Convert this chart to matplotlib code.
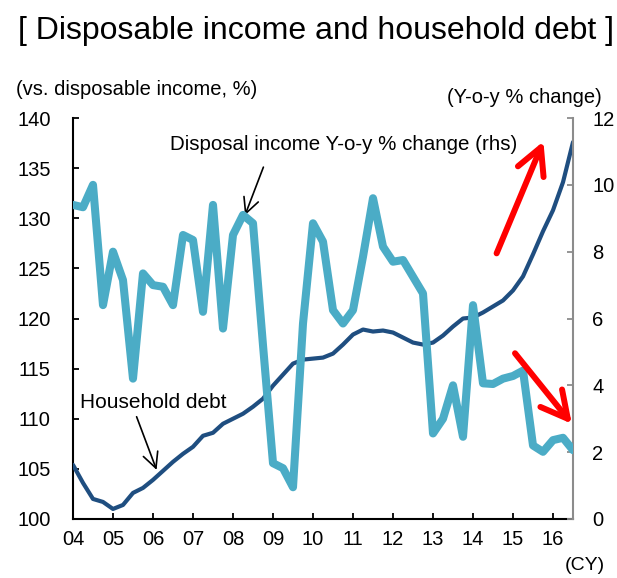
import numpy as np
import matplotlib.pyplot as plt

plt.rcParams['font.family'] = ['Liberation Sans', 'DejaVu Sans']

# quarterly data, 2004Q1 onwards
start_year = 2004
debt = [105.4, 103.6, 102.0, 101.7, 101.0, 101.4, 102.6, 103.1, 103.9, 104.8,
        105.7, 106.5, 107.2, 108.3, 108.6, 109.5, 110.0, 110.5, 111.2, 112.0,
        113.3, 114.4, 115.5, 115.9, 116.0, 116.1, 116.5, 117.4, 118.4, 118.9,
        118.7, 118.8, 118.6, 118.1, 117.6, 117.4, 117.6, 118.3, 119.2, 120.0,
        120.1, 120.6, 121.2, 121.8, 122.8, 124.2, 126.4, 128.7, 130.8, 133.6,
        137.6]
income_yoy = [9.40, 9.33, 10.0, 6.4, 8.0, 7.15, 4.2, 7.35, 7.0, 6.95,
              6.4, 8.5, 8.35, 6.2, 9.4, 5.7, 8.5, 9.1, 8.85, 5.2,
              1.67, 1.52, 0.95, 5.85, 8.85, 8.3, 6.25, 5.85, 6.25, 7.85,
              9.6, 8.15, 7.7, 7.75, 7.25, 6.75, 2.56, 3.0, 4.0, 2.46,
              6.4, 4.06, 4.04, 4.2, 4.28, 4.44, 2.2, 2.01, 2.36, 2.43,
              2.06]
years = list(range(2004, 2017))
year_labels = ['%02d' % (y % 100) for y in years]

x = start_year + np.arange(len(debt)) / 4.0

navy = '#1f4e80'
light = '#4bacc6'

fig = plt.figure(figsize=(6.17, 5.78), dpi=100)
ax = fig.add_axes([0.1183, 0.1021, 0.8104, 0.6937])
ax2 = ax.twinx()

ax.plot(x, debt, color=navy, lw=3, solid_capstyle='round', zorder=3)
ax2.plot(x, income_yoy, color=light, lw=5.8, solid_joinstyle='round',
         solid_capstyle='round', zorder=3)

ax.set_xlim(2004, 2016.5)
ax.set_ylim(100, 140)
ax2.set_ylim(0, 12)
ax.set_yticks(range(100, 141, 5))
ax2.set_yticks(range(0, 13, 2))
ax.set_xticks(years)
ax.set_xticklabels(year_labels)

for a in (ax, ax2):
    a.spines['top'].set_visible(False)
ax.spines['right'].set_visible(False)
ax2.spines['left'].set_visible(False)
ax2.spines['bottom'].set_visible(False)
ax.spines['left'].set_linewidth(1.5)
ax.spines['bottom'].set_linewidth(1.5)
ax2.spines['right'].set_color('#8c8c8c')
ax2.spines['right'].set_linewidth(1.5)

ax.tick_params(axis='both', direction='in', length=4, width=1.3,
               labelsize=14.5, pad=8)
ax.tick_params(axis='y', pad=16)
ax2.tick_params(axis='y', direction='in', length=4, width=1.3,
                color='#8c8c8c', labelsize=14.5, pad=14)

# captions
fig.text(0.029, 0.947, '[ Disposable income and household debt ]',
         fontsize=23, va='center', ha='left')
fig.text(0.026, 0.845, '(vs. disposable income, %)', fontsize=14.5,
         va='center', ha='left')
fig.text(0.976, 0.832, '(Y-o-y % change)', fontsize=14.5,
         va='center', ha='right')
fig.text(0.98, 0.021, '(CY)', fontsize=14, va='center', ha='right')

# labels for the two series
ax.text(2006.42, 137.4, 'Disposal income Y-o-y % change (rhs)', fontsize=14.8,
        va='center', ha='left')
ax.annotate('', xy=(2008.3, 130.3), xytext=(2008.76, 135.1),
            arrowprops=dict(arrowstyle='->,head_length=1.1,head_width=0.55',
                            color='black', lw=1.2, mutation_scale=10,
                            shrinkA=0, shrinkB=0))
ax.text(2004.17, 111.6, 'Household debt', fontsize=15, va='center', ha='left')
ax.annotate('', xy=(2006.09, 104.9), xytext=(2005.59, 110.2),
            arrowprops=dict(arrowstyle='->,head_length=1.1,head_width=0.55',
                            color='black', lw=1.2, mutation_scale=10,
                            shrinkA=0, shrinkB=0))

# trend arrows
red_style = '->,head_length=0.95,head_width=0.5'
ax2.annotate('', xy=(2015.76, 11.3), xytext=(2014.59, 7.95),
             arrowprops=dict(arrowstyle=red_style, color='red', lw=4.3,
                             mutation_scale=20, shrinkA=0, shrinkB=0),
             zorder=5)
ax2.annotate('', xy=(2016.47, 2.85), xytext=(2015.05, 4.96),
             arrowprops=dict(arrowstyle=red_style, color='red', lw=4.3,
                             mutation_scale=20, shrinkA=0, shrinkB=0),
             zorder=5)

fig.savefig('out.png', dpi=100)
